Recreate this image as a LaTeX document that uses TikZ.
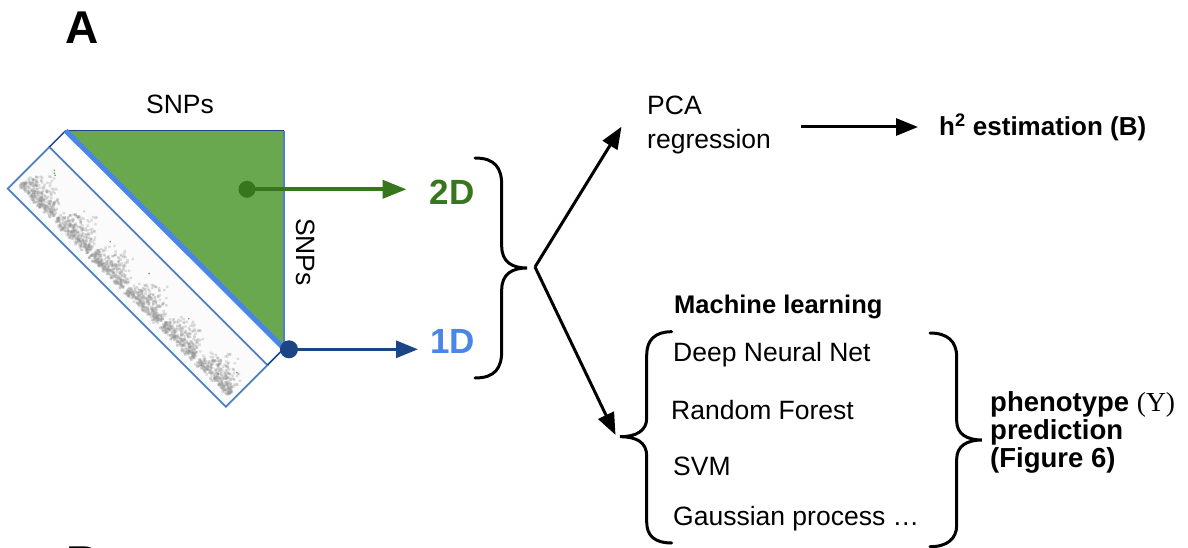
\documentclass[tikz,border=0pt]{standalone}
\usepackage{fontspec}
\setmainfont{Liberation Sans}
\newfontfamily\serifpart{Liberation Serif}
\usetikzlibrary{arrows.meta}

\definecolor{leafgreen}{HTML}{6AA84F}
\definecolor{darkgreen}{HTML}{38761D}
\definecolor{navy}{HTML}{1C4587}
\definecolor{skyblue}{HTML}{4A86E8}
\definecolor{stripblue}{HTML}{4F7FC0}

\tikzset{
  plain/.style={inner sep=0pt, font=\fontsize{26.5}{34}\selectfont},
  boldtxt/.style={inner sep=0pt, font=\bfseries\fontsize{25.5}{28}\selectfont},
  dimlabel/.style={inner sep=0pt, font=\bfseries\fontsize{35}{35}\selectfont},
  panel/.style={inner sep=0pt, font=\bfseries\fontsize{46}{46}\selectfont},
  bigarrow/.style={line width=3pt, -{Triangle[length=22pt,width=17pt]}},
  bracepath/.style={line width=3pt, line cap=round},
  dot/.style={circle, inner sep=0pt, minimum size=#1},
}

\begin{document}
\begin{tikzpicture}[x=1pt,y=-1pt]
\useasboundingbox (0,0) rectangle (1188,548);
\clip (0,0) rectangle (1188,548);

% panel letters
\node[panel, anchor=base] (labA) at (82,43.3) {A};
\node[panel, anchor=base west] (labB) at (66,578) {B};

% LD triangle
\coordinate (tl) at (65.7,130.7);
\coordinate (tr) at (284,130.7);
\coordinate (br) at (284,348.5);
\fill[leafgreen] (tl) -- (tr) -- (br) -- cycle;
\draw[navy, line width=1.5pt] (tl) -- (tr);
\draw[stripblue, line width=1.5pt] (tr) -- (br);

% rotated strip with the per-chromosome association signal
\begin{scope}[shift={(65.7,130.7)}, rotate=-45]
  \fill[white!97!gray] (0,23) rectangle (308.4,82);
  \begin{scope}
    \clip (0,23) rectangle (308.4,82);
    \pgfmathsetseed{7}
    \foreach \c in {0,...,5} {
      \foreach \i in {1,...,320} {
        \pgfmathsetmacro\ff{rnd}
        \pgfmathsetmacro\uu{6+50*\c+46*\ff}
        \pgfmathsetmacro\ss{0.35+0.65*sin(180*\ff)}
        \pgfmathsetmacro\vv{74-34*\ss*rnd*rnd-6*rnd}
        \fill[gray!85, opacity=.3] (\uu,\vv) circle[radius=1.7pt];
      }
    }
    \foreach \uu/\vv/\cc in {20/36/green!55!black, 22/38/green!55!black, 24/39/green!55!black,
                               70/44/orange, 110/47/violet, 160/42/violet, 220/46/violet,
                               262/70/green!55!black, 280/64/green!55!black, 292/50/green!55!black} {
      \fill[\cc, opacity=.6] (\uu,\vv) circle[radius=1pt];
    }
  \end{scope}
  \draw[stripblue, line width=1.8pt] (0,23) rectangle (308.4,82);
  \draw[navy, line width=1.5pt] (0,0) -- (0,23) (308.4,0) -- (308.4,23);
\end{scope}
\draw[skyblue, line width=5pt] (tl) -- (br);

% axis labels
\node[plain] (snpx) at (180,104) {SNPs};
\node[plain, rotate=-90] (snpy) at (306,252) {SNPs};

% 2D / 1D inputs
\node[dot=17pt, fill=darkgreen] (gdot) at (247,189.3) {};
\node[dot=18pt, fill=navy] (bdot) at (289,349.3) {};
\node[dimlabel, text=darkgreen, anchor=west] (d2) at (429.5,192.5) {2D};
\node[dimlabel, text=skyblue, anchor=west] (d1) at (430,341.7) {1D};
\draw[darkgreen, line width=4pt, -{Triangle[length=24pt,width=18pt]}, shorten >=23pt]
  (gdot.center) -- (gdot.center -| d2.west);
\draw[navy, line width=3pt, -{Triangle[length=22pt,width=17pt]}, shorten >=12pt]
  (bdot.center) -- (bdot.center -| d1.west);

% brace joining 2D and 1D
\draw[bracepath] (475,158) .. controls (495,158) and (501.7,168) .. (501.7,185)
  -- (501.7,246) .. controls (501.7,262) and (512,268) .. (527,268)
  .. controls (512,268) and (501.7,274) .. (501.7,290)
  -- (501.7,351) .. controls (501.7,368) and (495,378) .. (475,378);
\coordinate (fork) at (535,267);

% PCA branch
\node[plain, align=left, anchor=west] (pca) at (647,125) {PCA\\regression};
\coordinate (pcatip) at (621.5,126.7);
\draw[bigarrow] (fork) -- (pcatip);
\node[boldtxt, anchor=west, font=\bfseries\fontsize{26}{28}\selectfont] (h2) at (939,127)
  {h\textsuperscript{2} estimation (B)};
\draw[bigarrow] ([xshift=30pt]pca.east |- h2.west) -- ([xshift=-21pt]h2.west);

% machine learning branch
\node[boldtxt, anchor=west] (ml) at (674,306.7) {Machine learning};
\coordinate (mltip) at (615.5,435);
\draw[bigarrow] (fork) -- (mltip);
\draw[bracepath] (671.7,331.7) .. controls (655,331.7) and (646.7,340) .. (646.7,355)
  -- (646.7,418) .. controls (646.7,431) and (636,436.7) .. (620,436.7)
  .. controls (636,436.7) and (646.7,442) .. (646.7,456)
  -- (646.7,522) .. controls (646.7,536) and (655,543) .. (671.7,543);
\node[plain, anchor=west] (dnn) at (673,355) {Deep Neural Net};
\node[plain, anchor=west] (rf) at (671,410) {Random Forest};
\node[plain, anchor=west] (svm) at (673,466.7) {SVM};
\node[plain, anchor=west] (gp) at (673,519) {Gaussian process …};
\draw[bracepath] (930,333) .. controls (947,333) and (956.7,341) .. (956.7,357)
  -- (956.7,421) .. controls (956.7,434) and (967,440) .. (981.7,440)
  .. controls (967,440) and (956.7,446) .. (956.7,459)
  -- (956.7,525) .. controls (956.7,539) and (947,546.7) .. (930,546.7);
\node[boldtxt, align=left, anchor=west, font=\bfseries\fontsize{27.5}{28}\selectfont] (pheno) at (990,432)
  {phenotype {\serifpart\mdseries (Y)}\\prediction\\(Figure 6)};
\end{tikzpicture}
\end{document}
